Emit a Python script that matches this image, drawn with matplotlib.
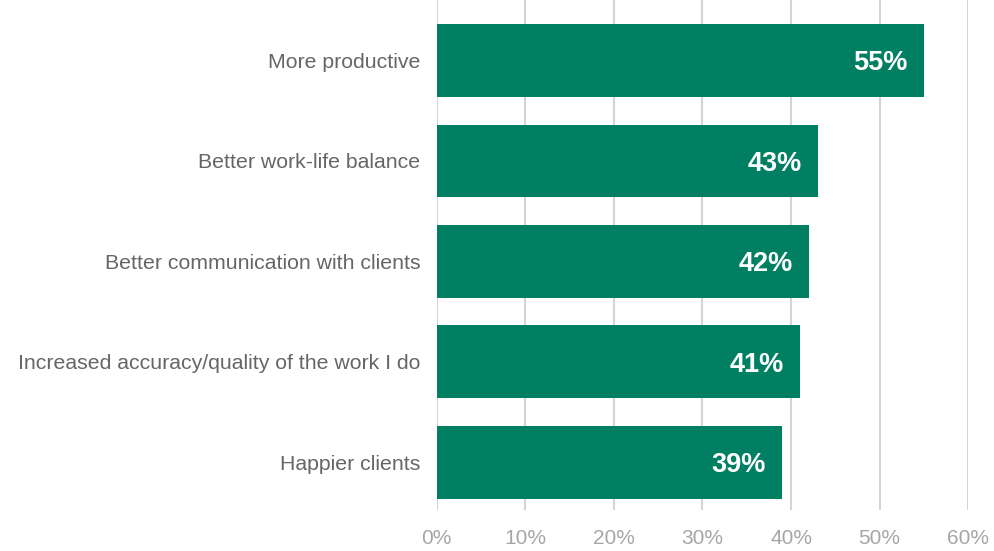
import matplotlib.pyplot as plt
from matplotlib.ticker import FuncFormatter

# survey results: benefits reported
benefits = ["More productive",
            "Better work-life balance",
            "Better communication with clients",
            "Increased accuracy/quality of the work I do",
            "Happier clients"]
shares = [55, 43, 42, 41, 39]
ticks = [0, 10, 20, 30, 40, 50, 60]

plt.rcParams['font.family'] = ['Liberation Sans', 'DejaVu Sans']

fig = plt.figure(figsize=(9.95, 5.51), dpi=100)
ax = fig.add_axes([0.439, 0.0744, 0.534, 0.9256])

pos = list(range(len(benefits)))
ax.barh(pos, shares, height=0.726, color="#007f62", zorder=3)

# value labels inside the bar ends
for p, v in zip(pos, shares):
    ax.text(v - 1.8, p, str(v) + "%", ha="right", va="center_baseline",
            color="white", fontsize=19.5, fontweight="bold", zorder=4)

ax.set_xlim(0, 60)
ax.set_ylim(4.473, -0.602)
ax.set_xticks(ticks)
ax.xaxis.set_major_formatter(FuncFormatter(lambda x, _: "%d%%" % x))
ax.set_yticks(pos)
ax.set_yticklabels(benefits)

ax.grid(axis="x", color="#d4d4d4", linewidth=1.5, zorder=0)
ax.tick_params(axis="x", length=0, pad=14, labelsize=15, labelcolor="#a6a6a6")
ax.tick_params(axis="y", length=0, pad=12, labelsize=15.3, labelcolor="#666666")
for s in ax.spines.values():
    s.set_visible(False)

plt.savefig("out.png", dpi=100)
